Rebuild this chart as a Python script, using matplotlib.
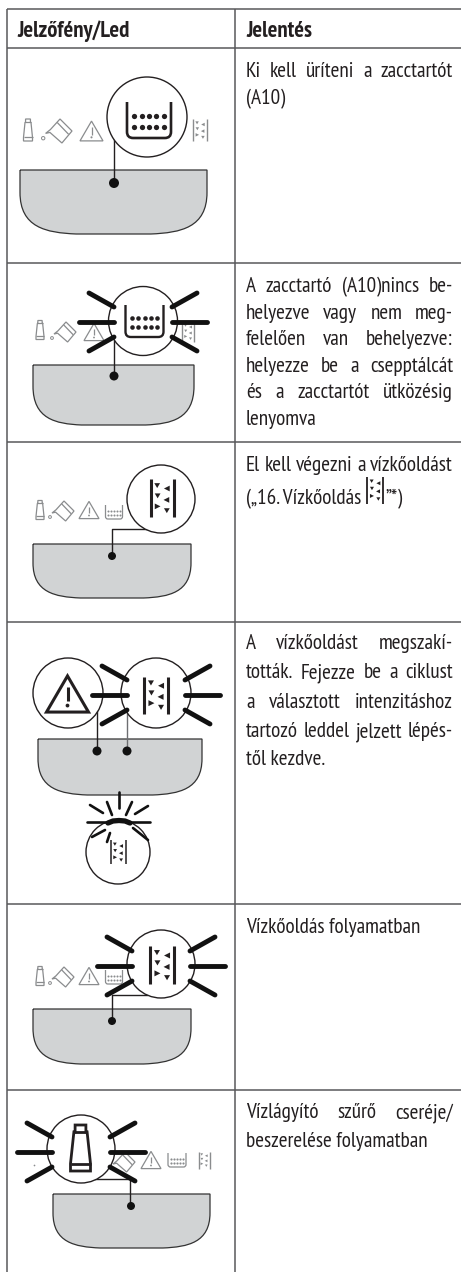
import matplotlib
matplotlib.use("Agg")
import matplotlib.pyplot as plt
import numpy as np
from matplotlib.patches import Circle, PathPatch, Polygon
from matplotlib.path import Path

W, H = 461, 1272
LINE = "#58595b"
INK = "#231f20"
GREY = "#8a8c8e"
TRAY = "#d1d3d4"
FONT = ["PT Sans Narrow", "Roboto Condensed", "Liberation Sans Narrow", "DejaVu Sans"]
BODY = 15.3

# table
col_x = [6.5, 235]
row_y = [9, 48, 263, 442, 622, 904, 1090]
header = ["Jelzőfény/Led", "Jelentés"]

# (words, baseline, justified)
text_lines = [
    ("Ki kell üríteni a zacctartót", 77, True),
    ("(A10)", 104, False),
    ("A zacctartó (A10)nincs be-", 292, True),
    ("helyezve vagy nem meg-", 319, True),
    ("felelően van behelyezve:", 345, True),
    ("helyezze be a csepptálcát", 372, True),
    ("és a zacctartót ütközésig", 398, True),
    ("lenyomva", 425, False),
    ("El kell végezni a vízkőoldást", 471, True),
    ("(„16. Vízkőoldás", 504, False),
    ("A vízkőoldást megszakí-", 649, True),
    ("tották. Fejezze be a ciklust", 678, True),
    ("a választott intenzitáshoz", 708, True),
    ("tartozó leddel jelzett lépés-", 737, True),
    ("től kezdve.", 765, False),
    ("Vízkőoldás folyamatban", 933, False),
    ("Vízlágyító szűrő cseréje/", 1118, True),
    ("beszerelése folyamatban", 1147, False),
]

# tray outlines: x0, x1, top, bottom
trays = [(20, 207, 170, 234), (33, 194, 365, 425), (33, 191, 544, 598),
         (38, 202, 739, 795), (33, 191, 1009, 1064), (53, 210, 1194, 1248)]

fig = plt.figure(figsize=(W / 100, H / 100), dpi=100)
ax = fig.add_axes([0, 0, 1, 1])
ax.set_xlim(0, W)
ax.set_ylim(H, 0)
ax.axis("off")


def seg(x0, y0, x1, y1, c=INK, lw=1.0, z=3, cap="butt"):
    ax.plot([x0, x1], [y0, y1], color=c, lw=lw, zorder=z, solid_capstyle=cap)


def draw_tray(x0, x1, top, bot):
    w, h = x1 - x0, bot - top
    v = [(x0, top), (x1, top), (x1, top + 0.35 * h),
         (x1, top + 0.9 * h), (x1 - 0.14 * w, bot - 0.02 * h), (x1 - 0.3 * w, bot),
         (x1 - 0.4 * w, bot), (x0 + 0.4 * w, bot), (x0 + 0.3 * w, bot),
         (x0 + 0.14 * w, bot - 0.02 * h), (x0, top + 0.9 * h), (x0, top + 0.35 * h),
         (x0, top)]
    codes = [Path.MOVETO, Path.LINETO, Path.LINETO] + [Path.CURVE4] * 9 + [Path.LINETO]
    ax.add_patch(PathPatch(Path(v, codes), fc=TRAY, ec="#333333", lw=0.9, zorder=2))


def dot(x, y, r=5):
    ax.add_patch(Circle((x, y), r, fc="#111111", ec="none", zorder=4))


def lens(cx, cy, r):
    ax.add_patch(Circle((cx, cy), r, fc="white", ec=INK, lw=1.0, zorder=5))


def rays(cx, cy):
    spokes = [(29, 0, 64, 0), (29, -15, 54, -29), (29, 15, 54, 29)]
    for a, b, c, d in spokes:
        for s in (-1, 1):
            seg(cx + s * a, cy + b, cx + s * c, cy + d, c="#111111", lw=3.5, z=6, cap="round")


def bucket(cx, cy, w, h, c=INK, lw=2.0, z=6):
    x0, x1 = cx - w / 2, cx + w / 2
    y0, y1 = cy - h / 2, cy + h / 2
    r = w * 0.14
    v = [(x0, y0), (x0, y1 - r), (x0, y1), (x0 + r, y1), (x1 - r, y1), (x1, y1), (x1, y1 - r), (x1, y0)]
    codes = [Path.MOVETO, Path.LINETO, Path.CURVE3, Path.CURVE3, Path.LINETO, Path.CURVE3, Path.CURVE3, Path.LINETO]
    ax.add_patch(PathPatch(Path(v, codes), fc="none", ec=c, lw=lw, zorder=z))
    xs = cx + np.arange(-2, 3) * w * 0.165
    for fy in (-0.1, 0.2):
        ax.scatter(xs, [cy + fy * h] * 5, s=(w * 0.14) ** 2 * 0.38, c=c, lw=0, zorder=z)


def descale(cx, cy, w, h, c=INK, lw=2.2, z=6):
    seg(cx - w / 2, cy - h / 2, cx - w / 2, cy + h / 2, c=c, lw=lw, z=z)
    seg(cx + w / 2, cy - h / 2, cx + w / 2, cy + h / 2, c=c, lw=lw, z=z)
    s = w * 0.125
    shapes = {"d": [(-1, -0.8), (1, -0.8), (0, 0.9)], "l": [(1, -1), (1, 1), (-1, 0)], "r": [(-1, -1), (-1, 1), (1, 0)]}
    spots = [(-0.21, -0.33, "d"), (0.21, -0.25, "l"), (-0.19, -0.06, "d"),
             (0.19, 0.05, "l"), (-0.19, 0.22, "r"), (0.21, 0.33, "d")]
    for fx, fy, d in spots:
        px, py = cx + fx * w, cy + fy * h
        ax.add_patch(Polygon([(px + a * s, py + b * s) for a, b in shapes[d]], fc=c, ec="none", zorder=z))


def tube(cx, cy, w, h, c=INK, lw=2.0, z=6):
    top, bot = cy - h / 2, cy + h / 2
    neck = top + 0.15 * h
    band = bot - 0.16 * h
    outline = [(cx - 0.27 * w, top), (cx + 0.27 * w, top), (cx + 0.27 * w, neck), (cx + 0.33 * w, neck),
               (cx + 0.5 * w, band), (cx + 0.5 * w, bot), (cx - 0.5 * w, bot), (cx - 0.5 * w, band),
               (cx - 0.33 * w, neck), (cx - 0.27 * w, neck)]
    ax.add_patch(Polygon(outline, closed=True, fc="white", ec=c, lw=lw, zorder=z))
    seg(cx - 0.5 * w, band, cx + 0.5 * w, band, c=c, lw=lw, z=z)
    seg(cx - 0.33 * w, neck, cx + 0.33 * w, neck, c=c, lw=lw, z=z)


def warning(cx, cy, w, c=INK, lw=2.0, z=6):
    h = w * 0.86
    ax.add_patch(Polygon([(cx, cy - h / 2), (cx + w / 2, cy + h / 2), (cx - w / 2, cy + h / 2)],
                         closed=True, fc="white", ec=c, lw=lw, joinstyle="miter", zorder=z))
    seg(cx, cy - h * 0.2, cx, cy + h * 0.18, c=c, lw=lw, z=z)
    ax.add_patch(Circle((cx, cy + h * 0.32), max(w * 0.045, 0.5), fc=c, ec="none", zorder=z))


def jug(cx, cy, s, c=GREY, lw=0.9, z=3):
    body = [(0, -0.5), (0.5, 0), (0.08, 0.5), (-0.42, 0.06), (-0.6, 0.1), (-0.4, -0.06)]
    ax.add_patch(Polygon([(cx + a * s, cy + b * s) for a, b in body], closed=True, fc="white", ec=c, lw=lw, zorder=z))
    seg(cx - 0.12 * s, cy - 0.36 * s, cx + 0.36 * s, cy + 0.14 * s, c=c, lw=lw, z=z)
    ax.add_patch(Circle((cx - 0.7 * s, cy + 0.3 * s), 0.07 * s, fc="white", ec=c, lw=lw * 0.8, zorder=z))


def leader(x0, y0, x1, y1, bend=None):
    if bend is None:
        seg(x0, y0, x1, y1, lw=1.0)
    else:
        ax.plot([x1, x0, x0], [bend, bend, y1], color=INK, lw=1.0, zorder=3)


# table rules
for y in row_y:
    seg(col_x[0], y, W, y, c=LINE, lw=1.1, z=1)
for x in col_x:
    seg(x, row_y[0], x, H, c=LINE, lw=1.1, z=1)

ax.text(17, 37, header[0], family=FONT, weight="bold", size=16.3, color=INK, va="baseline")
ax.text(246, 37, header[1], family=FONT, weight="bold", size=16.3, color=INK, va="baseline")

# body text, justified word by word
renderer = fig.canvas.get_renderer()
left, right = 246, 453
for line, base, just in text_lines:
    if not just:
        ax.text(left, base, line, family=FONT, size=BODY, color=INK, va="baseline")
        continue
    items = [ax.text(left, base, w, family=FONT, size=BODY, color=INK, va="baseline") for w in line.split()]
    widths = [t.get_window_extent(renderer).width for t in items]
    gap = (right - left - sum(widths)) / (len(items) - 1)
    x = left
    for t, w in zip(items, widths):
        t.set_x(x)
        x += w + gap

for t in trays:
    draw_tray(*t)

# row 1
leader(114, 130, 114, 183)
dot(114, 183)
lens(147, 117, 40)
bucket(149, 120, 44, 36, lw=1.9)
tube(28, 130, 9, 22, c=GREY, lw=0.9, z=3)
jug(60, 131, 24)
warning(91.5, 131, 23, c=GREY, lw=0.9, z=3)
descale(200, 130, 14, 22, c=GREY, lw=1.0, z=3)

# row 2
leader(114, 330, 114, 376)
dot(114, 376, 4.5)
tube(40, 330, 8, 19, c=GREY, lw=0.9, z=3)
jug(66, 332, 20)
warning(94, 332, 20, c=GREY, lw=0.9, z=3)
descale(188, 332, 12, 20, c=GREY, lw=1.0, z=3)
lens(143, 321, 34.5)
bucket(144.5, 321, 38, 32, lw=1.7)
rays(143, 322)

# row 3
leader(112, 530, 147, 556, bend=529)
dot(112, 556, 4)
tube(40, 510, 8, 19, c=GREY, lw=0.9, z=3)
jug(64, 511, 20)
warning(89, 510, 20, c=GREY, lw=0.9, z=3)
bucket(114, 512, 17, 14, c=GREY, lw=0.9, z=3)
lens(161, 499, 34)
descale(162, 498, 23, 38)
descale(375, 490, 16, 27, lw=1.3)
ax.text(385, 504, "”*)", family=FONT, size=BODY, color=INK, va="baseline")

# row 4
leader(97, 700, 97, 751)
seg(127, 700, 127, 751, c="#6d6e71", lw=1.0)
dot(97, 751, 4.5)
dot(127, 751, 4.5)
lens(68, 693, 35)
warning(67.5, 694, 42, lw=2.2)
lens(156, 693, 35)
descale(156, 695, 24, 37)
rays(156, 695)
# small blinking lens below the tray
lens(118, 852, 32)
descale(118, 852, 15, 24, lw=1.1)
small_rays = [(119, 792, 119, 808), (107, 802, 112, 815), (132, 802, 126, 815), (90, 805, 103, 813),
              (148, 806, 135, 814), (87, 822, 107, 822), (130, 822, 150, 822), (92, 837, 105, 830),
              (148, 840, 133, 828), (110, 833, 107, 842)]
for a, b, c, d in small_rays:
    seg(a, b, c, d, c="#111111", lw=1.9, z=6, cap="round")
ax.plot([108, 113, 119, 125, 130], [823, 821, 820.5, 821, 823], color="#111111", lw=3.8, zorder=7, solid_capstyle="round")

# row 5
leader(112, 996, 147, 1021, bend=995)
dot(112, 1021, 4)
tube(40, 976, 8, 19, c=GREY, lw=0.9, z=3)
jug(64, 977, 20)
warning(89, 976, 20, c=GREY, lw=0.9, z=3)
bucket(114, 977, 17, 14, c=GREY, lw=0.9, z=3)
lens(161, 964, 34)
descale(162, 965, 24, 38)
rays(161, 966)

# row 6
leader(130, 1180, 95, 1206, bend=1179)
dot(131, 1206, 4)
jug(125, 1162, 20)
warning(151, 1160, 20, c=GREY, lw=0.9, z=3)
bucket(177, 1160, 18, 14, c=GREY, lw=0.9, z=3)
descale(204, 1160, 11, 17, c=GREY, lw=1.0, z=3)
ax.scatter([34], [1165], s=1.5, c=GREY, lw=0, zorder=3)
lens(81, 1149, 34)
tube(80.5, 1148, 20, 46, lw=2.0)
rays(81, 1152)

fig.savefig("out.png", dpi=100)
